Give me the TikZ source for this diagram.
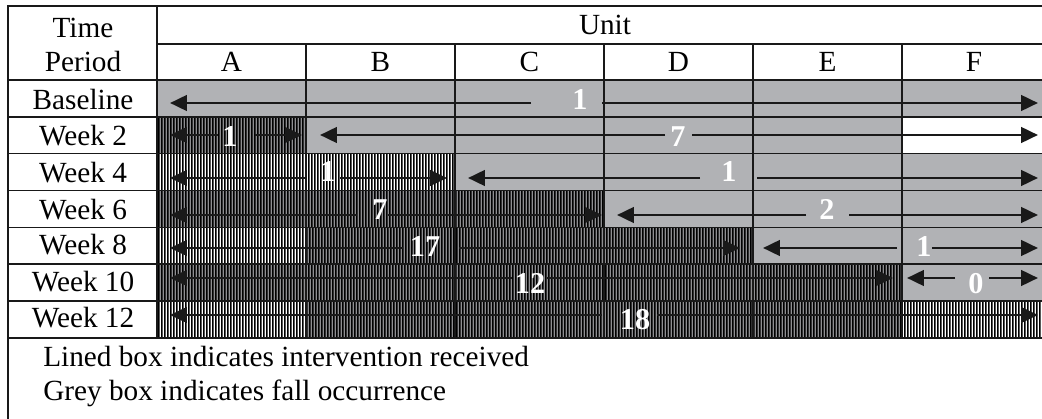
\documentclass[tikz,border=0pt]{standalone}
\usepackage{fontspec}
\setmainfont{Liberation Serif}
\usetikzlibrary{arrows.meta,patterns}
\definecolor{fallgrey}{RGB}{177,178,181}
% vertical stripes for the lined boxes
\pgfdeclarepatternformonly{vstripes}{\pgfpointorigin}{\pgfpoint{2.4pt}{2.4pt}}{\pgfpoint{2.4pt}{2.4pt}}%
  {\pgfpathrectangle{\pgfpointorigin}{\pgfpoint{1.3pt}{2.4pt}}\pgfusepath{fill}}
\tikzset{
  fall/.style={fill=fallgrey},
  litelined/.style={fill=white,postaction={pattern=vstripes,pattern color=black}},
  darklined/.style={fill=fallgrey!80!black,postaction={pattern=vstripes,pattern color=black}},
  grid/.style={line width=1.2pt,black!90},
  txt/.style={font=\fontsize{20.8}{24}\selectfont,anchor=base,inner sep=0pt},
  num/.style={font=\fontsize{21.5}{24}\selectfont\bfseries,text=white,anchor=base,inner sep=0pt},
  cntarrow/.style={line width=2pt,black!90,-{Triangle[length=12pt,width=11pt]}}
}
\begin{document}
\begin{tikzpicture}[x=0.025cm,y=-0.025cm]
\useasboundingbox (0,0) rectangle (1042,419);
\def\xr{1042} % right edge (cut off)
% cells
\fill[fall] (157,80) rectangle (\xr,117);
\fill[darklined] (157,117) rectangle (306,153.5);
\fill[fall] (306,117) rectangle (902,153.5);
\fill[litelined] (157,153.5) rectangle (455,190.5);
\fill[fall] (455,153.5) rectangle (\xr,190.5);
\fill[darklined] (157,190.5) rectangle (604,227.5);
\fill[fall] (604,190.5) rectangle (\xr,227.5);
\fill[litelined] (157,227.5) rectangle (306,264);
\fill[darklined] (306,227.5) rectangle (753,264);
\fill[fall] (753,227.5) rectangle (\xr,264);
\fill[darklined] (157,264) rectangle (902,301);
\fill[fall] (902,264) rectangle (\xr,301);
\fill[litelined] (157,301) rectangle (306,338);
\fill[darklined] (306,301) rectangle (902,338);
\fill[litelined] (902,301) rectangle (\xr,338);
% grid
\draw[grid] (8,419) -- (8,6) -- (\xr,6);
\draw[grid] (157,6) -- (157,338);
\draw[grid] (157,43.7) -- (\xr,43.7);
\foreach \y in {80,117,153.5,190.5,227.5,264,301,338}
  \draw[grid] (8,\y) -- (\xr,\y);
\foreach \x in {306,455,604,753,902}
  \draw[grid] (\x,43.7) -- (\x,338);
% headings
\node[txt] (time) at (83,37.3) {Time};
\node[txt] (period) at (83,72) {Period};
\node[txt] (unit) at (605,35) {Unit};
\foreach \u/\x in {A/231.5,B/380.5,C/529.5,D/678.5,E/827.5,F/974}
  \node[txt] (unit\u) at (\x,72) {\u};
\foreach \r/\t/\y in {base/Baseline/110,wk2/Week 2/145.7,wk4/Week 4/183,wk6/Week 6/219.5,wk8/Week 8/255,wk10/Week 10/291.5,wk12/Week 12/328}
  \node[txt] (\r) at (83,\y) {\t};
% counts with arrows
\foreach \n/\ya/\xa/\xb/\xl/\xc/\xd/\yl/\t in {
    bs/103/170/531/580/602/1038/110/1,
    wa/135/170/218/230/255/302/146.5/1,
    wb/135/320/665/678/692/1038/146.5/7,
    fa/178/170/305/328/340/447/182/1,
    fb/178/468/700/729/757/1038/182/1,
    sa/215/170/357/380/388/602/220/7,
    sb/215/617/806/827/849/1038/220/2,
    ea/248/170/403/425/459/740/257/17,
    eb/248/763/897/924/932/1038/257/1,
    ta/278/170/512/530/547/893/294/12,
    tb/278/907/955/976/989/1038/294/0,
    va/315/170/602/635/657/1038/330/18}{
  \node[num] (cnt-\n) at (\xl,\yl) {\t};
  \coordinate (\n-l) at (\xa,\ya);
  \coordinate (\n-a) at (\xb,\ya);
  \coordinate (\n-b) at (\xc,\ya);
  \coordinate (\n-r) at (\xd,\ya);
  \draw[cntarrow] (\n-a) -- (\n-l);
  \draw[cntarrow] (\n-b) -- (\n-r);
}
% key
\node[txt,anchor=base west] (key1) at (43,366.7) {Lined box indicates intervention received};
\node[txt,anchor=base west] (key2) at (43,401) {Grey box indicates fall occurrence};
\end{tikzpicture}
\end{document}
